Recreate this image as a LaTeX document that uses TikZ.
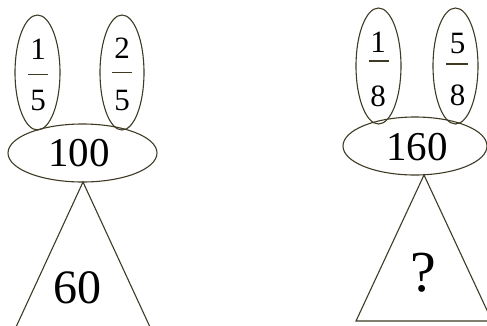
\documentclass[tikz,border=0pt]{standalone}
\usepackage{fontspec}
\setmainfont{Liberation Serif}
\usetikzlibrary{shapes.geometric}
\definecolor{linec}{RGB}{62,58,36}
\begin{document}
\begin{tikzpicture}[x=1pt,y=-1pt,
  outl/.style={draw=linec,line width=1.1pt},
  ell/.style={outl,ellipse,inner sep=0pt},
  fr/.style={inner sep=0pt,font=\fontsize{31}{31}\selectfont},
  big/.style={inner sep=0pt,font=\fontsize{41}{41}\selectfont},
  huge/.style={inner sep=0pt,font=\fontsize{48}{48}\selectfont}]
\useasboundingbox (0,0) rectangle (487,325);
\clip (0,0) rectangle (487,325);
% left figure
\node[ell,minimum width=45pt,minimum height=115pt] (e15) at (37.5,72.5) {};
\node[ell,minimum width=44pt,minimum height=115pt] (e25) at (122,72.5) {};
\node[ell,minimum width=149pt,minimum height=58pt] (e100) at (82.5,153) {};
\node[big] (t100) at (79,153.5) {100};
\node[fr] (n1) at (38,49) {1};
\node[fr] (d1) at (38,100) {5};
\draw[outl] ([xshift=-10pt,yshift=-2pt]e15.center) -- ([xshift=10pt,yshift=-2pt]e15.center);
\node[fr] (n2) at (122,48) {2};
\node[fr] (d2) at (122,100) {5};
\draw[outl] ([xshift=-10pt,yshift=0pt]e25.center) -- ([xshift=10pt,yshift=0pt]e25.center);
\coordinate (la) at (83,182);
\coordinate (ll) at (10,340);
\coordinate (lr) at (156,340);
\draw[outl] (ll) -- (la) -- (lr);
\node[huge] (t60) at (77,287.5) {60};
% right figure
\node[ell,minimum width=45pt,minimum height=116pt] (e18) at (378.5,66) {};
\node[ell,minimum width=45pt,minimum height=116pt] (e58) at (455.5,66) {};
\node[ell,minimum width=144pt,minimum height=58pt] (e160) at (415,146) {};
\node[big] (t160) at (417,147) {160};
\node[fr] (n3) at (378,42) {1};
\node[fr] (d3) at (378,96) {8};
\draw[outl] ([xshift=-10pt,yshift=5pt]e18.center) -- ([xshift=10pt,yshift=5pt]e18.center);
\node[fr] (n4) at (457.5,43) {5};
\node[fr] (d4) at (457.5,95) {8};
\draw[outl] ([xshift=-9.5pt,yshift=2pt]e58.center) -- ([xshift=12.5pt,yshift=2pt]e58.center);
\coordinate (ra) at (424,175);
\coordinate (rl) at (356,321);
\coordinate (rr) at (492,321);
\draw[outl] (rl) -- (ra) -- (rr) -- cycle;
\node[inner sep=0pt,font=\fontsize{58}{58}\selectfont] (tq) at (423,273) {?};
\end{tikzpicture}
\end{document}
